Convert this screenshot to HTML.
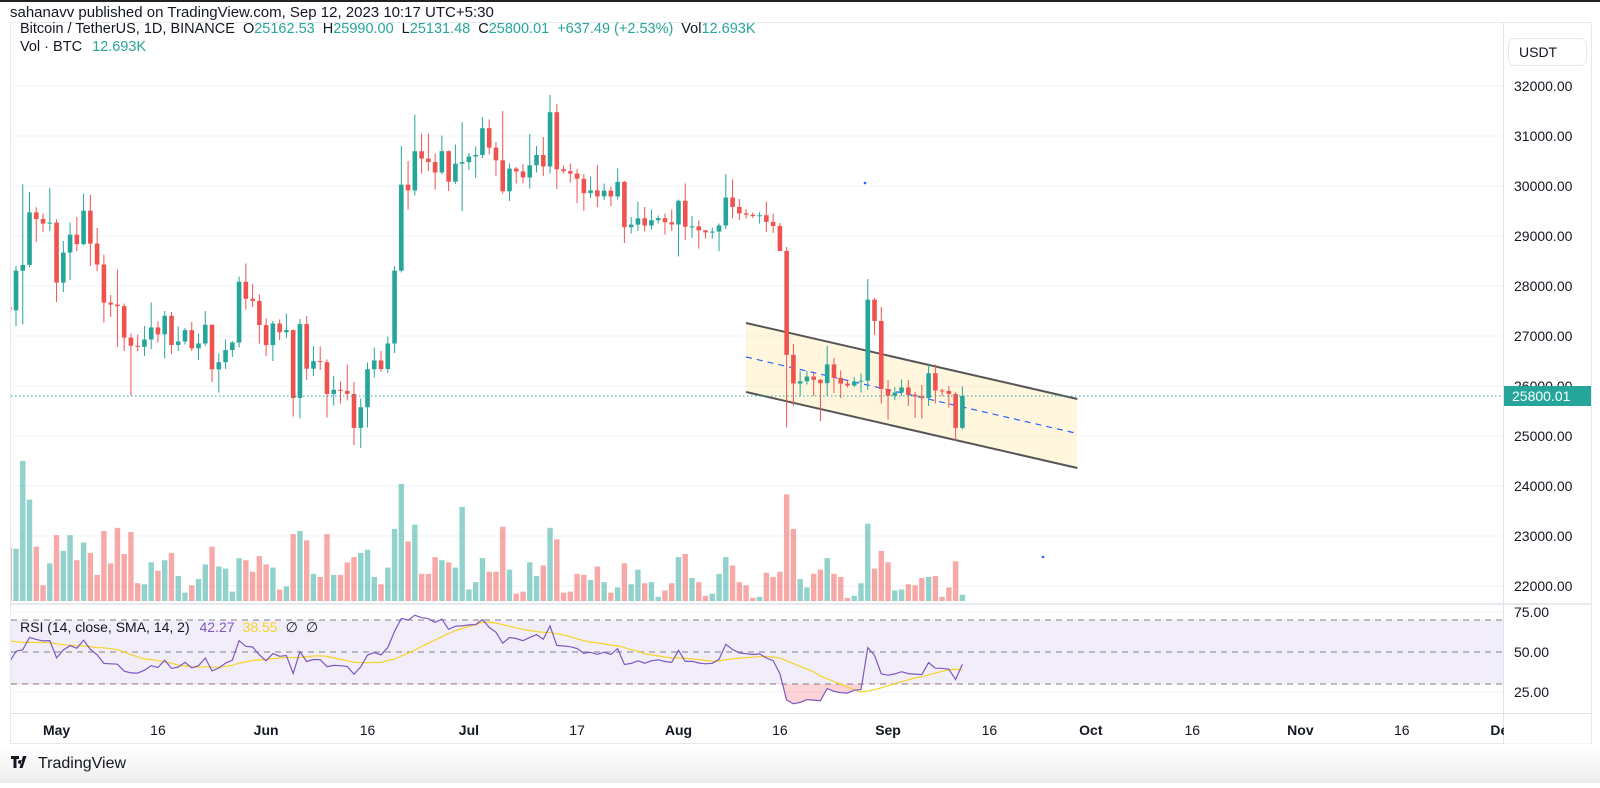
<!DOCTYPE html>
<html><head><meta charset="utf-8"><title>BTCUSDT 1D</title>
<style>
html,body{margin:0;padding:0;background:#fff;}
body{width:1600px;height:783px;overflow:hidden;font-family:"Liberation Sans",sans-serif;}
svg text{font-family:"Liberation Sans",sans-serif;}
</style></head>
<body>
<svg id="chart" width="1600" height="783" viewBox="0 0 1600 783" xmlns="http://www.w3.org/2000/svg">
<defs>
<linearGradient id="footGrad" x1="0" y1="0" x2="0" y2="1"><stop offset="0" stop-color="#ffffff"/><stop offset="1" stop-color="#eeeeee"/></linearGradient>
<clipPath id="plotClip"><rect x="11" y="23" width="1492" height="690"/></clipPath>
<clipPath id="osClip"><rect x="11" y="683.5" width="1492" height="30"/></clipPath>
</defs>
<rect x="0" y="0" width="1600" height="2" fill="#222"/>
<text x="10" y="17" font-size="15" fill="#131722">sahanavv published on TradingView.com, Sep 12, 2023 10:17 UTC+5:30</text>
<rect x="0" y="744" width="1600" height="39" fill="url(#footGrad)"/>
<rect x="10.5" y="22.5" width="1581" height="721" fill="#fff" stroke="#e6e8ee"/>
<g id="grid"></g>
<g id="rsiBg"></g>
<g id="channel" clip-path="url(#plotClip)"></g>
<g id="vol" clip-path="url(#plotClip)"></g>
<g id="candles" clip-path="url(#plotClip)"></g>
<g id="rsi" clip-path="url(#plotClip)"></g>
<g id="axes"></g>
<g>
<text x="20" y="33" font-size="14.5" fill="#131722">Bitcoin / TetherUS, 1D, BINANCE <tspan dx="4">O</tspan><tspan fill="#26a69a">25162.53</tspan><tspan dx="8">H</tspan><tspan fill="#26a69a">25990.00</tspan><tspan dx="8">L</tspan><tspan fill="#26a69a">25131.48</tspan><tspan dx="8">C</tspan><tspan fill="#26a69a">25800.01</tspan><tspan dx="8" fill="#26a69a">+637.49 (+2.53%)</tspan><tspan dx="8">Vol</tspan><tspan fill="#26a69a">12.693K</tspan></text>
<text x="20" y="51" font-size="14.5" fill="#131722">Vol · BTC <tspan dx="6" fill="#26a69a">12.693K</tspan></text>
</g>
<g>
<text x="20" y="632" font-size="14" fill="#131722">RSI (14, close, SMA, 14, 2) <tspan dx="6" fill="#7e57c2">42.27</tspan><tspan dx="8" fill="#f5d328">38.55</tspan><tspan dx="8">∅</tspan><tspan dx="8">∅</tspan></text>
</g>
<g>
<rect x="1508.5" y="38.5" width="78" height="27" rx="6" fill="#fff" stroke="#e6e8ee"/>
<text x="1519" y="57" font-size="14" fill="#131722">USDT</text>
</g>
<g>
<path d="M11 756h8v3h-2.5v9h-3v-9H11z M20 760a2 2 0 1 0 0.01 0 M23 756h3.5l-4 12h-3z" fill="#131722"/>
<text x="38" y="768" font-size="16" fill="#131722">TradingView</text>
</g>
</svg>
<script>
// ---- data ----
const firstOpen = 27590;
const closes = [27514,28307,28422,29473,29340,29248,29268,28068,28669,29026,28838,29506,28848,28430,27668,27628,27598,26968,26804,26784,26930,27171,27033,27404,26821,26890,27118,26754,26851,27225,26334,26476,26719,26868,28085,27745,27702,27219,26819,27249,27075,27119,25760,27238,26346,26498,26477,25841,25925,25903,25841,25162,25575,26335,26510,26340,26851,28307,30027,29912,30695,30549,30480,30271,30697,30086,30446,30477,30590,30620,31156,30767,30514,29895,30348,30292,30171,30414,30620,30391,31476,30334,30297,30249,30145,29856,29913,29792,29908,29791,30083,29176,29228,29354,29210,29316,29357,29275,29230,29705,29186,29193,29113,29072,29088,29211,29770,29582,29452,29425,29397,29415,29283,29200,28701,26623,26049,26096,26189,26125,26056,26432,26163,26048,26009,26090,26106,27727,27300,25940,25805,25869,25971,25826,25792,25759,26256,25911,25901,25841,25163,25800];
const highs = [28000,28400,30036,29880,29575,29450,29960,29335,28900,29270,29380,29850,29820,29160,28630,27820,28330,27650,27050,27030,27200,27670,27290,27500,27480,27190,27160,27280,27050,27500,27230,26650,26930,26900,28190,28450,28040,27830,27350,27300,27330,27450,27130,27340,27400,26800,26790,26530,26200,26090,26430,26080,25750,26470,26770,26700,26990,28400,30800,30500,31430,31050,31050,30650,31010,30710,30830,31280,30660,30790,31380,31330,30880,31500,30450,30380,30440,31040,30800,30980,31820,31640,30410,30450,30340,30240,30190,30420,30050,29990,30350,30100,29380,29690,29580,29530,29410,29450,29530,29730,30050,29400,29310,29120,29170,29250,30240,30130,29740,29540,29470,29480,29690,29450,29260,28780,26840,26290,26300,26260,26140,26800,26560,26310,26120,26180,26250,28140,27760,27580,26120,25980,26130,26120,25880,26020,26450,26430,25950,26000,25880,25990];
const lows = [27000,27200,27235,28375,28880,29085,29100,27680,27880,28120,28700,28815,28400,28300,27270,27380,26780,26700,25810,26690,26600,26740,26870,26550,26640,26700,26830,26700,26520,26800,26080,25870,26340,26580,26770,27530,27580,26850,26600,26500,26920,26960,25390,25350,26120,26200,26320,25370,25610,25650,25710,24820,24760,25170,26170,26280,26260,26660,28270,29530,29810,30250,30300,29930,30230,29900,30040,29500,30320,30160,30560,30630,30200,29850,29700,30050,30050,29950,30270,30200,30250,29940,30250,30070,29660,29500,29760,29580,29720,29600,29730,28860,29050,29100,29090,29130,29250,29030,29100,28590,28920,28960,28750,28950,28950,28700,29140,29350,29320,29350,29360,29250,29080,29060,28700,25170,25610,25800,26030,25800,25300,25800,25860,25760,25970,25980,25870,25920,27020,25650,25330,25720,25800,25600,25360,25350,25600,25650,25800,25570,24900,25131];
const volumes = [51,50,134,97,52,15,36,63,48,63,39,56,46,25,67,36,70,45,66,17,16,37,29,39,46,24,8,15,21,35,52,33,31,9,41,39,28,43,35,32,11,14,64,67,58,26,23,64,25,25,37,42,46,49,23,16,32,69,112,57,73,26,26,42,39,37,32,90,11,18,41,28,28,71,30,7,9,37,24,34,70,59,8,9,26,25,20,33,18,8,13,36,16,30,17,18,4,10,17,42,45,22,18,5,7,26,42,34,18,15,3,4,27,23,28,102,69,21,13,26,30,41,26,23,3,5,17,74,31,48,37,10,11,16,15,22,23,24,4,13,38,6];
const priceTicks = [32000,31000,30000,29000,28000,27000,26000,25000,24000,23000,22000];
const rsiTicks = [75,50,25];
const timeTickLabels = ["May","16","Jun","16","Jul","17","Aug","16","Sep","16","Oct","16","Nov","16","Dec"];
const timeTickIndex = [7,22,38,53,68,84,99,114,130,145,160,175,191,206,221];
const timeTickBold = [1,0,1,0,1,0,1,0,1,0,1,0,1,0,1];
const channelIdx = [109,158];
const channelUpper = [27260,25740];
const channelMid = [26580,25050];
const channelLower = [25880,24360];
const lastPrice = 25800.01;

// ---- scales ----
const X0=9.24, DX=6.76;
function xAt(i){return X0+i*DX;}
function yP(p){return 86+(32000-p)*0.05;}
const VB=601;
function yV(v){return VB-v*1.045;}
function yR(r){return 652-(r-50)*1.6;}
const NS="http://www.w3.org/2000/svg";
function mk(tag,attrs,parent){const e=document.createElementNS(NS,tag);for(const k in attrs)e.setAttribute(k,attrs[k]);parent.appendChild(e);return e;}

const opens = closes.map((c,i)=> i===0?firstOpen:closes[i-1]);

const grid=document.getElementById('grid');
priceTicks.forEach(p=>{
  const l=mk('line',{x1:11,x2:1503,y1:yP(p),y2:yP(p),stroke:'#f0f3fa','stroke-width':1},grid);
  
  
});
[75,25].forEach(r=>{
  const l=mk('line',{x1:11,x2:1503,y1:yR(r),y2:yR(r),stroke:'#f0f3fa','stroke-width':1},grid);
  
  
});
const axes=document.getElementById('axes');
let e;
e=mk('line',{x1:11,x2:1591,y1:604,y2:604,stroke:'#e0e3eb','stroke-width':1.5},axes);


e=mk('line',{x1:11,x2:1591,y1:713.5,y2:713.5,stroke:'#e0e3eb','stroke-width':1},axes);


e=mk('line',{x1:1503.5,x2:1503.5,y1:23,y2:744,stroke:'#e0e3eb','stroke-width':1},axes);



const rb=document.getElementById('rsiBg');
e=mk('rect',{x:11,y:yR(70),width:1492,height:yR(30)-yR(70),fill:'rgba(126,87,194,0.1)'},rb);


[70,50,30].forEach(r=>{
  const l=mk('line',{x1:11,x2:1503,y1:yR(r),y2:yR(r),stroke:'#9598a1','stroke-width':1.3,'stroke-dasharray':'6 5'},rb);
  
  
});

const ch=document.getElementById('channel');
const cx1=xAt(channelIdx[0]), cx2=xAt(channelIdx[1]);
e=mk('polygon',{points:`${cx1},${yP(channelUpper[0])} ${cx2},${yP(channelUpper[1])} ${cx2},${yP(channelLower[1])} ${cx1},${yP(channelLower[0])}`,fill:'rgba(255,236,179,0.45)'},ch);


e=mk('line',{x1:cx1,y1:yP(channelUpper[0]),x2:cx2,y2:yP(channelUpper[1]),stroke:'#555','stroke-width':2},ch);


e=mk('line',{x1:cx1,y1:yP(channelLower[0]),x2:cx2,y2:yP(channelLower[1]),stroke:'#555','stroke-width':2},ch);


e=mk('line',{x1:cx1,y1:yP(channelMid[0]),x2:cx2,y2:yP(channelMid[1]),stroke:'#2962ff','stroke-width':1.2,'stroke-dasharray':'6 5'},ch);


e=mk('circle',{cx:865,cy:183,r:1.3,fill:'#2962ff'},ch);


e=mk('circle',{cx:1043,cy:557,r:1.3,fill:'#2962ff'},ch);



const vg=document.getElementById('vol');
volumes.forEach((v,i)=>{
  const up=closes[i]>=opens[i];
  const r=mk('rect',{x:xAt(i)-2.7,y:yV(v),width:5.4,height:VB-yV(v),fill:up?'rgba(38,166,154,0.5)':'rgba(239,83,80,0.5)'},vg);
  
  
});

const cg=document.getElementById('candles');
closes.forEach((c,i)=>{
  const o=opens[i], up=c>=o, col=up?'#26a69a':'#ef5350', x=xAt(i);
  const g=mk('g',{},cg);
  
  
  mk('line',{x1:x,x2:x,y1:yP(highs[i]),y2:yP(lows[i]),stroke:col,'stroke-width':1},g);
  const top=yP(Math.max(o,c)), bot=yP(Math.min(o,c));
  mk('rect',{x:x-2.3,y:top,width:4.6,height:Math.max(1,bot-top),fill:col},g);
});

e=mk('line',{x1:11,x2:1503,y1:yP(lastPrice),y2:yP(lastPrice),stroke:'#26a69a','stroke-width':1,'stroke-dasharray':'1.5 2.5'},cg);



const rsiVals=[];
let ag=200, al=255, prev=firstOpen;
closes.forEach(c=>{const d=c-prev;prev=c;ag=(ag*13+Math.max(d,0))/14;al=(al*13+Math.max(-d,0))/14;rsiVals.push(100-100/(1+ag/al));});
const smaPad=58;
const smaVals=rsiVals.map((v,i)=>{let s=0;for(let k=i-13;k<=i;k++)s+=(k>=0?rsiVals[k]:smaPad);return s/14;});
const rg=document.getElementById('rsi');
const rsiPts=rsiVals.map((r,i)=>`${xAt(i).toFixed(1)},${yR(r).toFixed(1)}`);
e=mk('polygon',{points:`${xAt(0)},${yR(30)} ${rsiPts.join(' ')} ${xAt(rsiVals.length-1)},${yR(30)}`,fill:'rgba(242,54,69,0.22)','clip-path':'url(#osClip)'},rg);


e=mk('polyline',{points:smaVals.map((r,i)=>`${xAt(i).toFixed(1)},${yR(r).toFixed(1)}`).join(' '),fill:'none',stroke:'#f5d328','stroke-width':1.2},rg);


e=mk('polyline',{points:rsiPts.join(' '),fill:'none',stroke:'#7e57c2','stroke-width':1.2},rg);



priceTicks.forEach(p=>{
  const t=mk('text',{x:1514,y:yP(p)+5,'font-size':14,fill:'#131722'},axes);
  t.textContent=p.toFixed(2);
  
  
});
rsiTicks.forEach(r=>{
  const t=mk('text',{x:1514,y:yR(r)+5,'font-size':14,fill:'#131722'},axes);
  t.textContent=r.toFixed(2);
  
  
});
e=mk('rect',{x:1504,y:yP(lastPrice)-10,width:87,height:20,fill:'#26a69a'},axes);


const lt=mk('text',{x:1512,y:yP(lastPrice)+5,'font-size':14,fill:'#fff'},axes);
lt.textContent=lastPrice.toFixed(2);



timeTickLabels.forEach((lab,k)=>{
  const x=xAt(timeTickIndex[k]);
  const t=mk('text',{x:x,y:735,'font-size':14,'text-anchor':'middle',fill:'#131722','font-weight':timeTickBold[k]?'bold':'normal'},axes);
  t.textContent=lab;
  
  
});
e=mk('rect',{x:1504,y:714,width:87,height:29.5,fill:'#fff'},axes);


</script>
</body></html>
